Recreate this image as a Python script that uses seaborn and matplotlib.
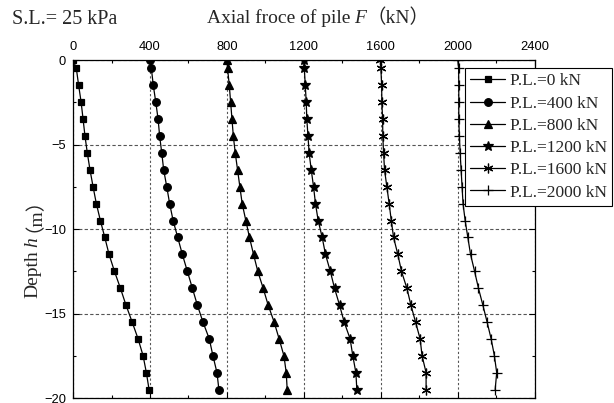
import matplotlib
matplotlib.use("Agg")
import matplotlib.pyplot as plt
from matplotlib.ticker import MultipleLocator
import pandas as pd
import seaborn as sns

# depth points (m)
depth = [0, -0.5, -1.5, -2.5, -3.5, -4.5, -5.5, -6.5, -7.5, -8.5, -9.5,
         -10.5, -11.5, -12.5, -13.5, -14.5, -15.5, -16.5, -17.5, -18.5, -19.5]

# axial force (kN) for each pile-top load
f_0 = [0, 17, 29, 42, 52, 62, 74, 88, 104, 121, 142,
       165, 187, 215, 246, 275, 307, 338, 364, 381, 395]
f_400 = [402, 407, 417, 430, 442, 450, 461, 471, 487, 502, 520,
         544, 568, 594, 620, 646, 675, 708, 727, 748, 758]
f_800 = [800, 803, 812, 819, 826, 833, 843, 855, 867, 879, 898,
         917, 938, 960, 988, 1014, 1045, 1071, 1096, 1108, 1113]
f_1200 = [1198, 1202, 1207, 1212, 1215, 1221, 1227, 1238, 1250, 1260, 1274,
          1295, 1312, 1337, 1359, 1385, 1409, 1440, 1454, 1470, 1475]
f_1600 = [1597, 1600, 1604, 1605, 1609, 1610, 1614, 1619, 1631, 1643, 1654,
          1666, 1688, 1707, 1735, 1756, 1780, 1804, 1814, 1835, 1835]
f_2000 = [2000, 2004, 2005, 2005, 2005, 2008, 2012, 2017, 2022, 2027, 2038,
          2052, 2066, 2087, 2107, 2130, 2152, 2173, 2190, 2202, 2194]

labels = ["P.L.=0 kN", "P.L.=400 kN", "P.L.=800 kN",
          "P.L.=1200 kN", "P.L.=1600 kN", "P.L.=2000 kN"]
series = [f_0, f_400, f_800, f_1200, f_1600, f_2000]
markers = ["s", "o", "^", "*", (6, 2, 0), "+"]
msizes = [5, 5.5, 6, 7, 7, 7]

SERIF = ["Liberation Serif", "Noto Sans CJK SC", "DejaVu Sans"]

sns.set_style("ticks")
plt.rcParams["font.family"] = SERIF

fig = plt.figure(figsize=(6.14, 4.03), dpi=100)
ax = fig.add_axes([0.119, 0.0124, 0.752, 0.8387])

for lab, vals, mk, ms in zip(labels, series, markers, msizes):
    df = pd.DataFrame({"F": vals, "h": depth})
    sns.lineplot(data=df, x="F", y="h", ax=ax, sort=False, estimator=None,
                 color="black", lw=0.9, marker=mk, markersize=ms,
                 markeredgecolor="black", markeredgewidth=0.9, label=lab)

ax.set_xlim(0, 2400)
ax.set_ylim(-20, 0)
ax.xaxis.set_major_locator(MultipleLocator(400))
ax.xaxis.set_minor_locator(MultipleLocator(200))
ax.yaxis.set_major_locator(MultipleLocator(5))
ax.yaxis.set_minor_locator(MultipleLocator(2.5))
ax.xaxis.tick_top()
ax.tick_params(which="both", direction="in", top=True, bottom=True,
               left=True, right=True, labeltop=True, labelbottom=False,
               colors="black", width=0.8, pad=5)
ax.tick_params(which="major", length=4)
ax.tick_params(which="minor", length=2.5)
for t in ax.get_xticklabels() + ax.get_yticklabels():
    t.set_fontfamily("Liberation Sans")
    t.set_fontsize(9.3)
ax.set_xlabel("")
ax.set_ylabel("")

ax.xaxis.grid(True, which="major", color="#555555", ls=(0, (2, 2)), lw=0.8)
ax.yaxis.grid(True, which="major", color="#555555", ls=(0, (3, 2)), lw=0.8)
for s in ax.spines.values():
    s.set_color("black")
    s.set_linewidth(0.9)

leg = ax.legend(loc="upper left", bbox_to_anchor=(465 / 614, 1 - 68 / 403),
                bbox_transform=fig.transFigure, frameon=True,
                fancybox=False, edgecolor="black", framealpha=1,
                fontsize=12.5, handlelength=2.0, handletextpad=0.3,
                borderpad=0.3, labelspacing=0.35, borderaxespad=0)
leg.get_frame().set_linewidth(0.8)


def rich_label(cx, cy, parts, vertical=False, size=14):
    # draw text pieces one after another, centred on pixel position (cx, cy)
    # each part: (text, style, gap before, sideways shift)
    r = fig.canvas.get_renderer()
    W, H = fig.bbox.width, fig.bbox.height
    items = []
    for s, style, gap, shift in parts:
        t = fig.text(0, 0, s, fontsize=size, style=style, family=SERIF,
                     rotation=90 if vertical else 0, rotation_mode="anchor",
                     ha="left", va="baseline")
        bb = t.get_window_extent(r)
        items.append((t, bb.height if vertical else bb.width, gap, shift))
    total = sum(l + g for _, l, g, _ in items)
    pos = (cy if vertical else cx) - total / 2
    for t, l, g, sh in items:
        pos += g
        if vertical:
            t.set_position(((cx + sh) / W, pos / H))
        else:
            t.set_position((pos / W, (cy + sh) / H))
        pos += l


rich_label(318, 403 - 23, [("Axial froce of pile", "normal", 0, 0),
                           ("F", "italic", 4, 0), ("（kN）", "normal", 0, 0)])
rich_label(37, 403 - 238, [("Depth", "normal", 0, 0), ("h", "italic", 4, 0),
                           ("（m）", "normal", 5, -7)], vertical=True)
fig.text(12 / 614, 1 - 24 / 403, "S.L.= 25 kPa", fontsize=14.5,
         ha="left", va="baseline")

fig.savefig("out.png", dpi=100)
